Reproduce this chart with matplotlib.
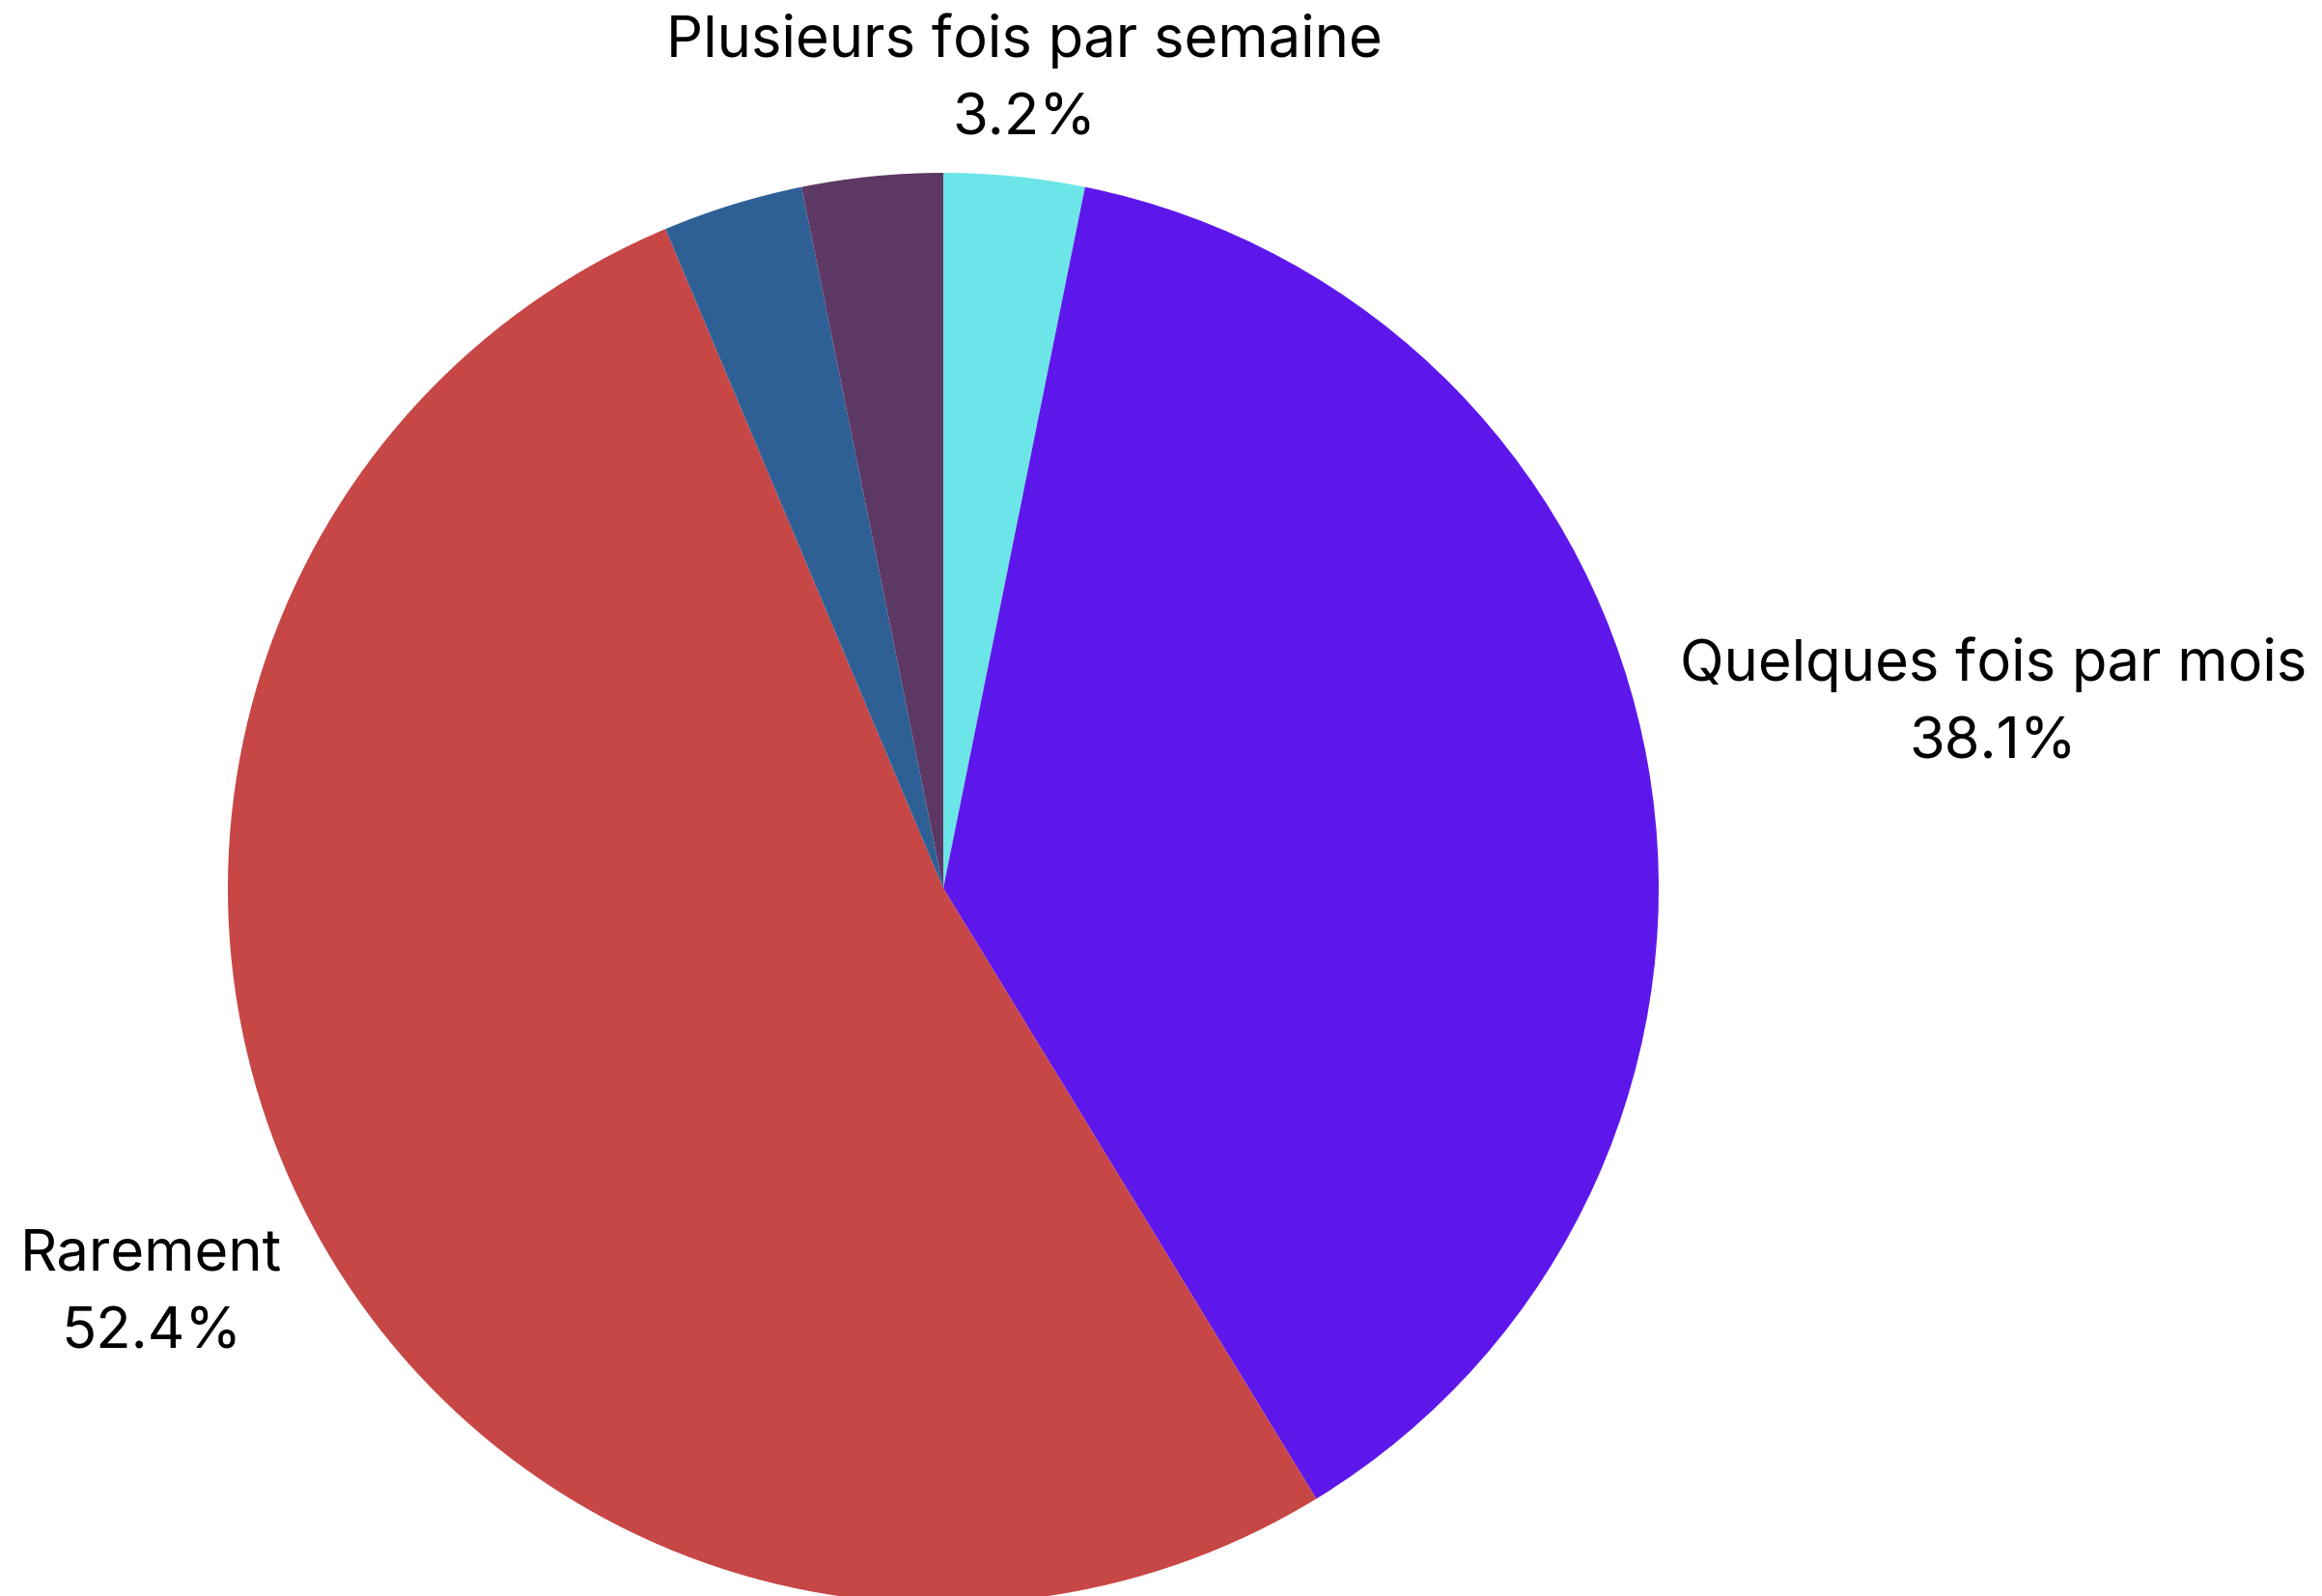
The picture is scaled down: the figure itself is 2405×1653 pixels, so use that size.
import matplotlib
matplotlib.use("Agg")
import matplotlib.pyplot as plt
import numpy as np

# answers (counts out of 63), clockwise from the top
labels = ["Plusieurs fois par semaine", "Quelques fois par mois", "Rarement", "", ""]
counts = [2, 24, 33, 2, 2]
colors = ["#6CE5E8", "#5E17EB", "#C74646", "#2E6096", "#5E3864"]
# how far out each label sits (in radii)
label_dist = [1.136, 1.49, 1.244, None, None]

plt.rcParams["font.family"] = ["Inter", "DejaVu Sans"]

W, H = 2405, 1653
cx, cy, r = 977, 920, 741

fig = plt.figure(figsize=(W / 100, H / 100), dpi=100)
ax = fig.add_axes([0, 0, 1, 1])
ax.pie(counts, colors=colors, startangle=90, counterclock=False,
       radius=1, wedgeprops=dict(linewidth=0))
ax.set_xlim(-cx / r, (W - cx) / r)
ax.set_ylim(-(H - cy) / r, cy / r)
ax.set_aspect("equal")
ax.axis("off")

total = sum(counts)
start = 90.0
for lab, c, d in zip(labels, counts, label_dist):
    span = 360.0 * c / total
    mid = np.radians(start - span / 2)
    start -= span
    if not lab:
        continue
    pct = 100.0 * c / total
    ax.text(d * np.cos(mid), d * np.sin(mid), f"{lab}\n{pct:.1f}%",
            ha="center", va="center", fontsize=43, linespacing=1.6,
            color="black")

fig.savefig("out.png", dpi=100)
